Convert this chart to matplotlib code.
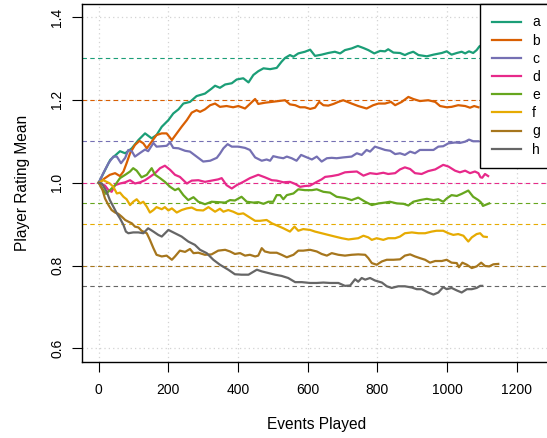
import matplotlib
matplotlib.use("Agg")
import matplotlib.pyplot as plt

plt.rcParams['font.family'] = ['Liberation Sans', 'DejaVu Sans']
plt.rcParams['font.size'] = 10

# series values (events played, rating mean)
a_x = [0, 33, 61, 76, 95, 114, 133, 152, 166, 181, 200, 214, 229, 243, 262, 281, 305, 324, 334, 348,
       363, 382, 396, 415, 430, 444, 458, 473, 492, 511, 525, 535, 549, 559, 573, 592, 607, 621, 640, 659,
       678, 693, 707, 726, 744, 760, 774, 791, 808, 822, 831, 846, 865, 879, 889, 903, 918, 942, 961, 985,
       999, 1013, 1028, 1042, 1052, 1063, 1075, 1085, 1093, 1105]
a_y = [1.0, 1.055, 1.076, 1.071, 1.083, 1.103, 1.119, 1.107, 1.115, 1.135, 1.151, 1.167, 1.177, 1.191, 1.195, 1.209, 1.215, 1.227, 1.234, 1.229,
       1.237, 1.24, 1.249, 1.252, 1.242, 1.26, 1.269, 1.276, 1.274, 1.277, 1.292, 1.301, 1.308, 1.304, 1.312, 1.316, 1.321, 1.306, 1.309, 1.313,
       1.316, 1.312, 1.32, 1.324, 1.33, 1.325, 1.32, 1.312, 1.318, 1.317, 1.322, 1.314, 1.313, 1.308, 1.312, 1.316, 1.308, 1.305, 1.309, 1.313,
       1.317, 1.309, 1.313, 1.316, 1.312, 1.317, 1.313, 1.32, 1.329, 1.335]

b_x = [0, 18, 32, 47, 61, 71, 80, 90, 104, 117, 128, 138, 152, 166, 181, 195, 210, 224, 238, 253,
       267, 281, 291, 305, 320, 334, 348, 367, 386, 401, 420, 434, 449, 458, 477, 497, 516, 535, 549, 564,
       578, 592, 607, 621, 633, 645, 659, 674, 688, 702, 726, 745, 769, 788, 803, 822, 839, 851, 870, 889,
       903, 922, 946, 966, 980, 999, 1013, 1032, 1052, 1066, 1078, 1090]
b_y = [1.0, 1.011, 1.019, 1.023, 1.016, 1.027, 1.047, 1.071, 1.091, 1.101, 1.095, 1.083, 1.099, 1.115, 1.119, 1.119, 1.103, 1.119, 1.135, 1.151,
       1.169, 1.175, 1.171, 1.177, 1.187, 1.191, 1.183, 1.185, 1.182, 1.185, 1.179, 1.19, 1.202, 1.19, 1.193, 1.195, 1.197, 1.199, 1.189, 1.187,
       1.182, 1.182, 1.178, 1.181, 1.195, 1.187, 1.186, 1.19, 1.195, 1.199, 1.191, 1.185, 1.179, 1.187, 1.191, 1.191, 1.195, 1.187, 1.195, 1.207,
       1.202, 1.197, 1.199, 1.195, 1.185, 1.182, 1.183, 1.187, 1.185, 1.181, 1.185, 1.182]

c_x = [0, 13, 28, 42, 52, 64, 76, 85, 95, 104, 119, 133, 142, 157, 166, 181, 195, 205, 214, 229,
       248, 262, 281, 300, 320, 339, 348, 358, 370, 382, 401, 420, 434, 449, 468, 482, 492, 501, 516, 530,
       540, 554, 568, 581, 592, 612, 626, 640, 655, 669, 683, 702, 726, 741, 755, 769, 779, 793, 808, 822,
       837, 851, 865, 879, 894, 908, 922, 942, 961, 975, 989, 1004, 1023, 1037, 1052, 1063, 1075, 1090]
c_y = [1.0, 1.023, 1.047, 1.063, 1.063, 1.047, 1.06, 1.079, 1.076, 1.063, 1.072, 1.08, 1.076, 1.096, 1.087, 1.088, 1.089, 1.097, 1.084, 1.083,
       1.077, 1.075, 1.063, 1.051, 1.053, 1.06, 1.07, 1.083, 1.093, 1.087, 1.087, 1.084, 1.079, 1.061, 1.053, 1.056, 1.053, 1.064, 1.061, 1.059,
       1.063, 1.059, 1.053, 1.067, 1.063, 1.056, 1.063, 1.051, 1.059, 1.06, 1.059, 1.061, 1.063, 1.071, 1.067, 1.079, 1.075, 1.087, 1.083, 1.079,
       1.077, 1.069, 1.071, 1.067, 1.075, 1.071, 1.079, 1.079, 1.079, 1.087, 1.088, 1.095, 1.097, 1.096, 1.099, 1.104, 1.1, 1.1]

d_x = [0, 18, 28, 37, 47, 61, 76, 90, 104, 119, 133, 147, 162, 176, 190, 205, 219, 233, 253, 267,
       286, 305, 324, 343, 353, 367, 382, 396, 415, 434, 458, 477, 497, 511, 530, 549, 564, 578, 592, 607,
       626, 640, 650, 669, 688, 707, 722, 741, 760, 779, 798, 817, 831, 851, 865, 879, 894, 908, 927, 946,
       966, 989, 1004, 1023, 1037, 1052, 1066, 1080, 1090, 1096, 1101, 1109, 1118]
d_y = [1.0, 0.993, 0.982, 0.978, 0.994, 0.998, 1.001, 1.006, 0.998, 1.001, 1.006, 1.014, 1.023, 1.035, 1.041, 1.031, 1.019, 1.014, 0.998, 1.005,
       1.006, 1.002, 1.005, 1.008, 1.011, 0.994, 0.986, 0.994, 1.002, 1.011, 1.019, 1.013, 1.006, 1.005, 1.001, 1.002, 0.997, 0.99, 0.992, 0.993,
       1.002, 1.008, 1.014, 1.016, 1.019, 1.025, 1.026, 1.027, 1.017, 1.023, 1.021, 1.024, 1.021, 1.023, 1.032, 1.037, 1.033, 1.023, 1.021, 1.028,
       1.032, 1.043, 1.039, 1.029, 1.025, 1.029, 1.023, 1.027, 1.023, 1.013, 1.012, 1.021, 1.016]

e_x = [0, 13, 21, 32, 47, 61, 76, 90, 99, 109, 123, 138, 152, 162, 176, 190, 205, 219, 229, 243,
       257, 272, 286, 305, 324, 343, 363, 377, 391, 410, 425, 444, 458, 473, 487, 501, 511, 521, 530, 540,
       559, 573, 592, 612, 626, 645, 664, 683, 707, 726, 745, 765, 784, 803, 822, 836, 856, 875, 889, 903,
       922, 942, 961, 975, 989, 999, 1013, 1028, 1042, 1061, 1075, 1090, 1098, 1103, 1109, 1121]
e_y = [1.0, 0.982, 0.973, 0.982, 0.994, 1.011, 1.019, 1.027, 1.035, 1.029, 1.013, 1.019, 1.035, 1.019, 1.011, 1.002, 0.99, 0.982, 0.986, 0.97,
       0.958, 0.965, 0.954, 0.948, 0.954, 0.953, 0.952, 0.958, 0.957, 0.966, 0.954, 0.952, 0.953, 0.949, 0.954, 0.954, 0.97, 0.97, 0.96, 0.97,
       0.974, 0.984, 0.982, 0.982, 0.984, 0.978, 0.976, 0.966, 0.963, 0.958, 0.964, 0.954, 0.946, 0.95, 0.952, 0.954, 0.95, 0.949, 0.945, 0.954,
       0.958, 0.961, 0.958, 0.96, 0.954, 0.962, 0.97, 0.968, 0.973, 0.981, 0.966, 0.958, 0.952, 0.944, 0.946, 0.95]

f_x = [0, 13, 23, 32, 42, 52, 61, 71, 80, 90, 99, 109, 119, 128, 138, 147, 157, 166, 181, 190,
       200, 210, 224, 238, 253, 267, 281, 300, 315, 334, 348, 358, 372, 386, 401, 415, 430, 449, 463, 482,
       497, 511, 530, 549, 562, 573, 587, 607, 621, 640, 659, 678, 698, 717, 745, 760, 774, 784, 798, 817,
       831, 851, 865, 879, 899, 918, 937, 956, 970, 989, 1004, 1018, 1032, 1047, 1061, 1071, 1085, 1095, 1104, 1114]
f_y = [1.0, 1.006, 1.002, 0.998, 0.99, 0.974, 0.976, 0.966, 0.96, 0.946, 0.954, 0.96, 0.95, 0.954, 0.942, 0.928, 0.934, 0.941, 0.936, 0.941,
       0.933, 0.938, 0.928, 0.934, 0.938, 0.94, 0.934, 0.933, 0.941, 0.93, 0.937, 0.93, 0.934, 0.93, 0.924, 0.926, 0.918, 0.908, 0.908, 0.91,
       0.902, 0.897, 0.89, 0.882, 0.894, 0.884, 0.888, 0.886, 0.882, 0.878, 0.874, 0.87, 0.866, 0.863, 0.866, 0.872, 0.868, 0.862, 0.866, 0.862,
       0.866, 0.866, 0.87, 0.878, 0.88, 0.878, 0.878, 0.882, 0.884, 0.884, 0.878, 0.874, 0.876, 0.872, 0.858, 0.868, 0.876, 0.878, 0.87, 0.869]

g_x = [0, 11, 18, 28, 37, 47, 56, 66, 76, 85, 95, 104, 114, 123, 138, 147, 157, 166, 181, 195,
       210, 219, 233, 248, 262, 272, 286, 305, 324, 343, 363, 377, 391, 406, 420, 434, 449, 458, 468, 477,
       492, 511, 525, 540, 559, 573, 587, 607, 626, 640, 655, 669, 688, 707, 726, 745, 765, 774, 784, 798,
       813, 827, 846, 865, 879, 894, 908, 922, 937, 951, 966, 985, 999, 1013, 1028, 1034, 1044, 1057, 1071, 1085,
       1098, 1109, 1121, 1133, 1147]
g_y = [1.0, 0.982, 0.962, 0.946, 0.934, 0.928, 0.925, 0.918, 0.91, 0.906, 0.902, 0.894, 0.892, 0.884, 0.878, 0.862, 0.842, 0.826, 0.822, 0.824,
       0.814, 0.822, 0.836, 0.833, 0.84, 0.83, 0.831, 0.826, 0.827, 0.836, 0.838, 0.834, 0.828, 0.83, 0.824, 0.826, 0.822, 0.824, 0.842, 0.834,
       0.831, 0.831, 0.826, 0.82, 0.826, 0.836, 0.836, 0.838, 0.834, 0.828, 0.824, 0.83, 0.826, 0.824, 0.826, 0.827, 0.826, 0.818, 0.806, 0.802,
       0.81, 0.814, 0.814, 0.815, 0.824, 0.827, 0.822, 0.818, 0.814, 0.807, 0.811, 0.811, 0.814, 0.807, 0.806, 0.796, 0.807, 0.802, 0.794, 0.798,
       0.807, 0.799, 0.798, 0.803, 0.804]

h_x = [0, 9, 23, 32, 42, 52, 61, 71, 78, 85, 99, 114, 128, 142, 157, 171, 181, 200, 219, 238,
       257, 276, 291, 310, 329, 348, 372, 391, 410, 430, 454, 468, 487, 506, 525, 544, 564, 583, 607, 626,
       645, 664, 688, 707, 722, 736, 745, 755, 765, 779, 793, 813, 827, 841, 860, 879, 899, 913, 927, 946,
       961, 975, 989, 999, 1013, 1028, 1042, 1057, 1071, 1085, 1095, 1101]
h_y = [1.0, 0.998, 0.978, 0.958, 0.942, 0.926, 0.914, 0.898, 0.882, 0.878, 0.88, 0.88, 0.878, 0.89, 0.882, 0.874, 0.87, 0.886, 0.878, 0.87,
       0.858, 0.85, 0.838, 0.83, 0.814, 0.802, 0.79, 0.779, 0.778, 0.778, 0.79, 0.786, 0.782, 0.778, 0.775, 0.77, 0.76, 0.76, 0.758, 0.758,
       0.759, 0.758, 0.758, 0.751, 0.752, 0.767, 0.761, 0.77, 0.766, 0.77, 0.764, 0.759, 0.75, 0.746, 0.75, 0.75, 0.747, 0.743, 0.743, 0.735,
       0.73, 0.735, 0.748, 0.743, 0.746, 0.74, 0.735, 0.743, 0.743, 0.746, 0.751, 0.751]

labels = ['a', 'b', 'c', 'd', 'e', 'f', 'g', 'h']
targets = [1.3, 1.2, 1.1, 1.0, 0.95, 0.9, 0.8, 0.75]   # dashed reference levels
colors = ['#1B9E77', '#D95F02', '#7570B3', '#E7298A', '#66A61E', '#E6AB02', '#A6761D', '#666666']  # Dark2
xs = [a_x, b_x, c_x, d_x, e_x, f_x, g_x, h_x]
ys = [a_y, b_y, c_y, d_y, e_y, f_y, g_y, h_y]
x_ticks = [0, 200, 400, 600, 800, 1000, 1200]
y_ticks = [0.6, 0.8, 1.0, 1.2, 1.4]

fig = plt.figure(figsize=(5.47, 4.38), dpi=100)
# right edge of the plot box sits just past the picture, like the cropped original
ax = fig.add_axes([0.1494, 0.1742, 0.8589, 0.8174])
ax.set_xlim(-48.8, 1300)
ax.set_ylim(0.568, 1.432)

# dotted grid like R's grid()
for xv in x_ticks:
    ax.axvline(xv, color='#d3d3d3', lw=0.9, ls=(0, (1, 2.5)), zorder=0)
for yv in y_ticks:
    ax.axhline(yv, color='#d3d3d3', lw=0.9, ls=(0, (1, 2.5)), zorder=0)

# target lines
for t, col in zip(targets, colors):
    ax.axhline(t, color=col, lw=0.8, ls=(0, (4, 3)), zorder=1)

for x, y, col, lab in zip(xs, ys, colors, labels):
    ax.plot(x, y, color=col, lw=1.6, label=lab, zorder=2)

ax.set_xticks(x_ticks)
ax.set_yticks(y_ticks)
ax.set_yticklabels(['0.6', '0.8', '1.0', '1.2', '1.4'], rotation=90, va='center')
ax.tick_params(axis='x', length=7, width=0.8, pad=8, labelsize=10)
ax.tick_params(axis='y', length=7, width=0.8, pad=5.5, labelsize=10)
for s in ax.spines.values():
    s.set_linewidth(1.0)
    s.set_color('black')

ax.set_xlabel('Events Played', labelpad=15, fontsize=11.2)
ax.set_ylabel('Player Rating Mean', labelpad=15, fontsize=11.2)

leg = ax.legend(loc='upper right', fancybox=False, framealpha=1, edgecolor='black',
                borderaxespad=0, borderpad=0.85, handlelength=2.1, handletextpad=0.8,
                labelspacing=0.3, fontsize=10)
leg.get_frame().set_linewidth(1.0)
for ln in leg.get_lines():
    ln.set_linewidth(1.6)

fig.savefig('out.png', dpi=100)
